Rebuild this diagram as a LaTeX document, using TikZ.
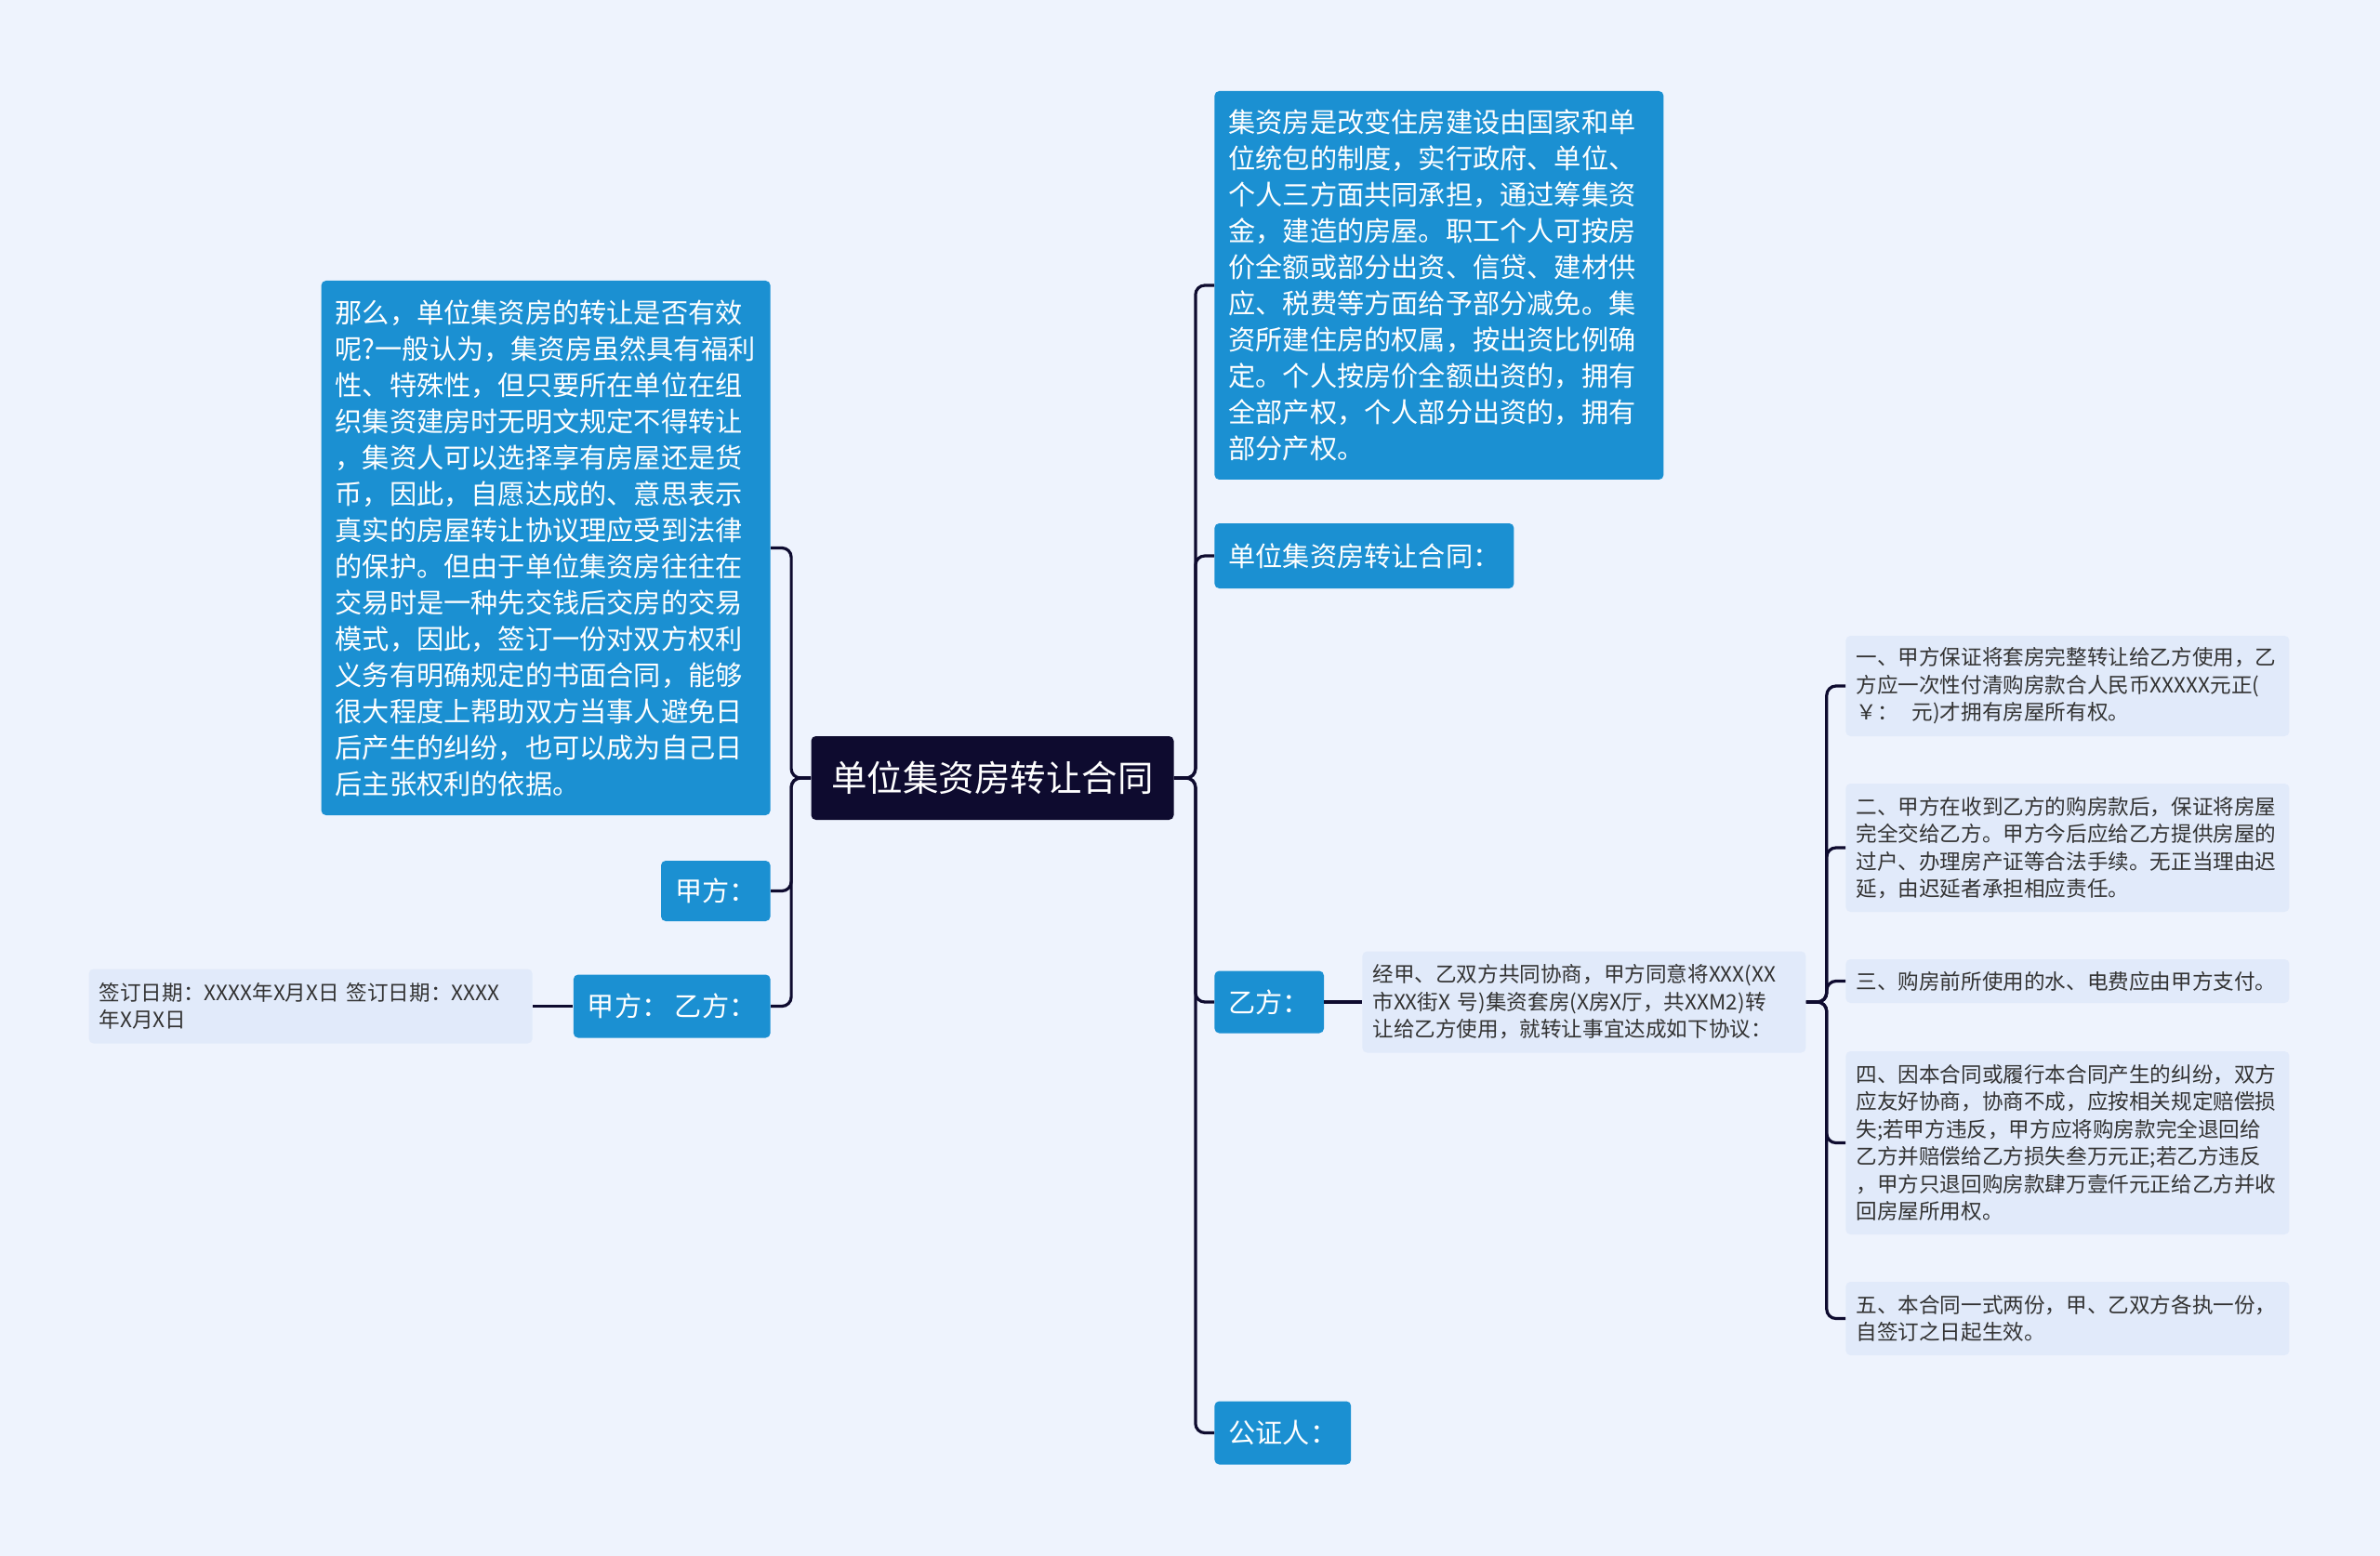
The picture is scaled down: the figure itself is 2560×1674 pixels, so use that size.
\documentclass[tikz,border=0pt]{standalone}
\usepackage{fontspec}
\setmainfont{Noto Sans CJK SC}

\definecolor{pagebg}{HTML}{EEF3FD}
\definecolor{topicblue}{HTML}{1B90D2}
\definecolor{notebg}{HTML}{E1EAFA}
\definecolor{notetext}{HTML}{333333}
\definecolor{rootcol}{HTML}{0E0B2F}

\tikzset{
  rootbox/.style={rectangle, rounded corners=2.5pt, fill=rootcol, text=white,
    font=\fontsize{19.25}{23}\selectfont, minimum width=195pt, minimum height=45pt},
  topic/.style={rectangle, rounded corners=2.5pt, fill=topicblue, text=white,
    font=\fontsize{14.6}{19.5}\selectfont, inner xsep=7.5pt, inner ysep=0pt, minimum height=34pt},
  note/.style={rectangle, rounded corners=2.5pt, fill=notebg, text=notetext,
    font=\fontsize{11.3}{14.75}\selectfont, inner xsep=5.5pt, inner ysep=0pt,
    align=left, text width=227.5pt},
  link/.style={draw=rootcol, line width=1.6pt, rounded corners=5pt},
}

\begin{document}
\begin{tikzpicture}[x=0.5pt, y=-0.5pt]
\fill[pagebg] (0,0) rectangle (2560,1674);

\node[name=root, rootbox] at (1067.5,837) {单位集资房转让合同};

% left branch
\node[name=why, topic, align=left, text width=226.5pt, minimum height=287.5pt, anchor=east] at (829,589.5) {那么，单位集资房的转让是否有效\\
呢?一般认为，集资房虽然具有福利\\
性、特殊性，但只要所在单位在组\\
织集资建房时无明文规定不得转让\\
，集资人可以选择享有房屋还是货\\
币，因此，自愿达成的、意思表示\\
真实的房屋转让协议理应受到法律\\
的保护。但由于单位集资房往往在\\
交易时是一种先交钱后交房的交易\\
模式，因此，签订一份对双方权利\\
义务有明确规定的书面合同，能够\\
很大程度上帮助双方当事人避免日\\
后产生的纠纷，也可以成为自己日\\
后主张权利的依据。};
\node[name=jia, topic, minimum height=32.5pt, anchor=east] at (829,958.5) {甲方：};
\node[name=jiayi, topic, anchor=east] at (829,1082.5) {甲方： 乙方：};
\node[name=date, note, minimum height=40pt, anchor=east] at (573,1082.5) {签订日期：XXXX年X月X日~签订日期：XXXX\\
年X月X日};

% right branch
\node[name=what, topic, align=left, text width=226.5pt, minimum height=209pt, anchor=west] at (1306,307) {集资房是改变住房建设由国家和单\\
位统包的制度，实行政府、单位、\\
个人三方面共同承担，通过筹集资\\
金，建造的房屋。职工个人可按房\\
价全额或部分出资、信贷、建材供\\
应、税费等方面给予部分减免。集\\
资所建住房的权属，按出资比例确\\
定。个人按房价全额出资的，拥有\\
全部产权，个人部分出资的，拥有\\
部分产权。};
\node[name=title, topic, minimum height=35pt, anchor=west] at (1306,598) {单位集资房转让合同：};
\node[name=yi, topic, minimum height=33.5pt, anchor=west] at (1306,1078) {乙方：};
\node[name=notary, topic, anchor=west] at (1306,1541.5) {公证人：};

\node[name=agree, note, minimum height=54.5pt, anchor=west] at (1465,1078) {经甲、乙双方共同协商，甲方同意将XXX(XX\\
市XX街X~号)集资套房(X房X厅，共XXM2)转\\
让给乙方使用，就转让事宜达成如下协议：};

\node[name=c1, note, minimum height=54pt, anchor=west] at (1985,738) {一、甲方保证将套房完整转让给乙方使用，乙\\
方应一次性付清购房款合人民币XXXXX元正(\\
￥：~~元)才拥有房屋所有权。};
\node[name=c2, note, minimum height=69pt, anchor=west] at (1985,912) {二、甲方在收到乙方的购房款后，保证将房屋\\
完全交给乙方。甲方今后应给乙方提供房屋的\\
过户、办理房产证等合法手续。无正当理由迟\\
延，由迟延者承担相应责任。};
\node[name=c3, note, minimum height=23.5pt, anchor=west] at (1985,1055.5) {三、购房前所使用的水、电费应由甲方支付。};
\node[name=c4, note, minimum height=98.5pt, anchor=west] at (1985,1229.5) {四、因本合同或履行本合同产生的纠纷，双方\\
应友好协商，协商不成，应按相关规定赔偿损\\
失;若甲方违反，甲方应将购房款完全退回给\\
乙方并赔偿给乙方损失叁万元正;若乙方违反\\
，甲方只退回购房款肆万壹仟元正给乙方并收\\
回房屋所用权。};
\node[name=c5, note, minimum height=39.5pt, anchor=west] at (1985,1418.5) {五、本合同一式两份，甲、乙双方各执一份，\\
自签订之日起生效。};

\draw[link] (root.west) -- ++(-21,0) |- (why.east);
\draw[link] (root.west) -- ++(-21,0) |- (jia.east);
\draw[link] (root.west) -- ++(-21,0) |- (jiayi.east);
\draw[link] (jiayi.west) -- (jiayi.west -| date.east);

\draw[link] (root.east) -- ++(23,0) |- (what.west);
\draw[link] (root.east) -- ++(23,0) |- (title.west);
\draw[link] (root.east) -- ++(23,0) |- (yi.west);
\draw[link] (root.east) -- ++(23,0) |- (notary.west);
\draw[link] (yi.east) -- (yi.east -| agree.west);

\draw[link] (agree.east) -- ++(22,0) |- (c1.west);
\draw[link] (agree.east) -- ++(22,0) |- (c2.west);
\draw[link] (agree.east) -- ++(22,0) |- (c3.west);
\draw[link] (agree.east) -- ++(22,0) |- (c4.west);
\draw[link] (agree.east) -- ++(22,0) |- (c5.west);
\end{tikzpicture}
\end{document}
